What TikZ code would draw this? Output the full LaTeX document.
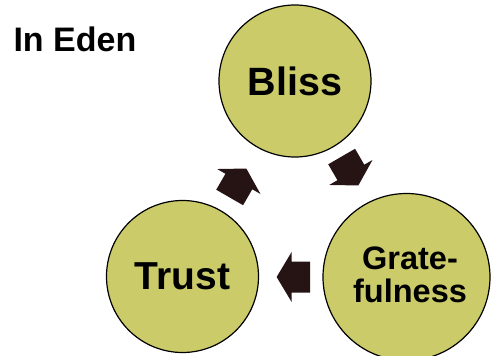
\documentclass[tikz,border=0pt]{standalone}
\usepackage{fontspec}
\setmainfont{Liberation Sans}
\definecolor{circfill}{HTML}{CBCB69}
\definecolor{arrowcol}{HTML}{261314}
\begin{document}
\begin{tikzpicture}[x=1pt,y=-1pt,
  cyc/.style={circle,draw=black,line width=1.2pt,fill=circfill,minimum size=152pt,inner sep=0pt,align=center,font=\bfseries},
  cycarrow/.pic={\fill[arrowcol] (16.7,0) -- (1.7,-25) -- (1.7,-15.5) -- (-16.7,-15.5) -- (-16.7,15.5) -- (1.7,15.5) -- (1.7,25) -- cycle;}]
\useasboundingbox (0,0) rectangle (491,356);
\clip (0,0) rectangle (491,356);
\node[anchor=base west,font=\bfseries\fontsize{34}{36}\selectfont] (title) at (10,52) {In Eden};
\node[cyc,font=\bfseries\fontsize{39.5}{40}\selectfont] (bliss) at (295,81) {Bliss};
\node[cyc,font=\bfseries\fontsize{39}{40}\selectfont] (trust) at (182.5,276.5) {Trust};
\node[cyc,minimum size=167pt] (grate) at (406.5,277) {};
\node[align=center,font=\bfseries\fontsize{32.5}{33.5}\selectfont] (gratetext) at (410,275) {Grate-\\fulness};
\pic[rotate=180] at (293.3,277) {cycarrow};
\pic[rotate=60] at (238,183) {cycarrow};
\pic[rotate=-60] at (350,171) {cycarrow};
\end{tikzpicture}
\end{document}
